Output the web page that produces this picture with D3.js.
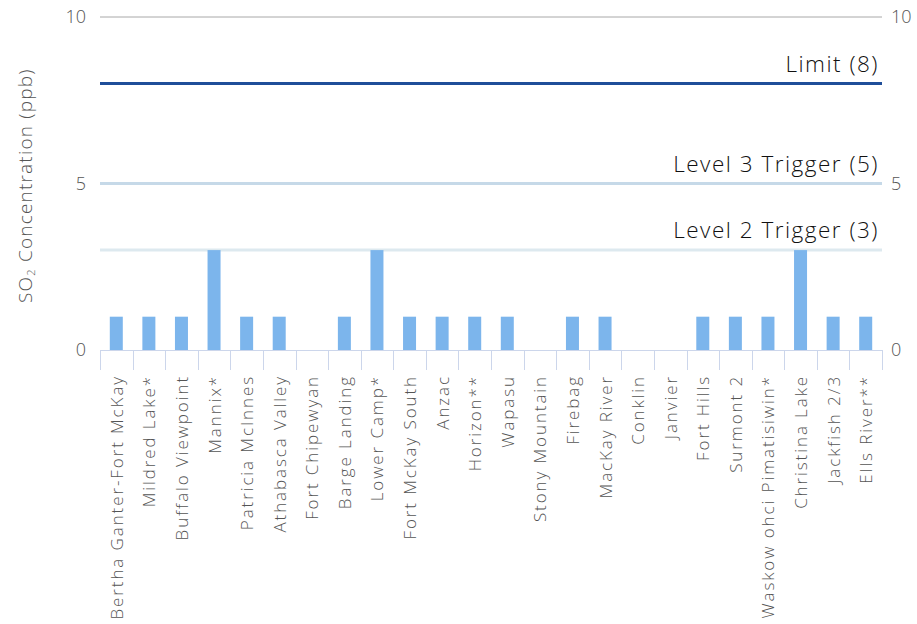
<!DOCTYPE html>
<html><head><meta charset="utf-8">
<script src="https://cdn.jsdelivr.net/npm/d3@7"></script>
<style>body{margin:0;background:#fff}svg{display:block}</style>
</head><body>
<svg id="c" width="917" height="624"></svg>
<script>
const categories = ["Bertha Ganter-Fort McKay","Mildred Lake*","Buffalo Viewpoint","Mannix*","Patricia McInnes","Athabasca Valley","Fort Chipewyan","Barge Landing","Lower Camp*","Fort McKay South","Anzac","Horizon**","Wapasu","Stony Mountain","Firebag","MacKay River","Conklin","Janvier","Fort Hills","Surmont 2","Waskow ohci Pimatisiwin*","Christina Lake","Jackfish 2/3","Ells River**"];
const values = [1,1,1,3,1,1,0,1,3,1,1,1,1,0,1,1,0,0,1,1,1,3,1,1];
const yTicks = [0,5,10];
const refLabels = ["Limit (8)","Level 3 Trigger (5)","Level 2 Trigger (3)"];
const refValues = [8,5,3];
const refColors = ["#1f4e99","#c6d9e8","#dde9ef"];

const font = "'Open Sans', sans-serif";
const svg = d3.select("#c");
const L = 100, R = 882, T = 17, B = 350;
const x = d3.scaleBand().domain(categories).range([L, R]);
const y = d3.scaleLinear().domain([0, 10]).range([B, T]);

// top gridline
svg.append("line").attr("x1", L).attr("x2", R).attr("y1", y(10)).attr("y2", y(10))
  .attr("stroke", "#a8a8a8").attr("stroke-width", 1);

// reference lines
refValues.forEach((v, i) => {
  svg.append("line").attr("x1", L).attr("x2", R).attr("y1", y(v)).attr("y2", y(v))
    .attr("stroke", refColors[i]).attr("stroke-width", 3);
  svg.append("text").attr("x", 879).attr("y", y(v) - 12).attr("text-anchor", "end")
    .attr("font-family", font).attr("font-size", 22.5).attr("font-weight", 350)
    .attr("letter-spacing", 1.5)
    .attr("fill", "#111").text(refLabels[i]);
});

// bars
const bw = 13;
svg.selectAll("rect.bar").data(values).enter().append("rect")
  .attr("x", (d, i) => x(categories[i]) + x.bandwidth() / 2 - bw / 2)
  .attr("y", d => y(d))
  .attr("width", bw)
  .attr("height", d => y(0) - y(d))
  .attr("fill", "#7cb5ec");

// x axis
const xAxis = svg.append("g").attr("transform", `translate(0,${B})`)
  .call(d3.axisBottom(x).tickSize(0).tickPadding(0).tickFormat(""));
xAxis.select(".domain").attr("stroke", "#ccd6eb").attr("stroke-width", 1);
const bounds = categories.map(c => x(c)).concat([R]);
svg.selectAll("line.tick").data(bounds).enter().append("line")
  .attr("x1", d => Math.round(d) + 0.5).attr("x2", d => Math.round(d) + 0.5)
  .attr("y1", B).attr("y2", B + 20).attr("stroke", "#ccd6eb").attr("stroke-width", 1);
categories.forEach((c, i) => {
  svg.append("text")
    .attr("transform", `translate(${x(c) + x.bandwidth() / 2 + 6.5},${375}) rotate(-90)`)
    .attr("text-anchor", "end").attr("font-family", font).attr("font-size", 17)
    .attr("font-weight", 300).attr("letter-spacing", 1.9)
    .attr("fill", "#555").text(c);
});

// y axis labels left and right
const yl = svg.append("g").attr("transform", `translate(${L},0)`)
  .call(d3.axisLeft(y).tickValues(yTicks).tickSize(0).tickPadding(14));
yl.select(".domain").remove();
yl.selectAll("text").attr("font-family", font).attr("font-size", 18).attr("font-weight", 300).attr("fill", "#555");
const yr = svg.append("g").attr("transform", `translate(${R},0)`)
  .call(d3.axisRight(y).tickValues(yTicks).tickSize(0).tickPadding(9));
yr.select(".domain").remove();
yr.selectAll("text").attr("font-family", font).attr("font-size", 18).attr("font-weight", 300).attr("fill", "#555");

// y title
const yt = svg.append("text").attr("transform", `translate(32,303) rotate(-90)`)
  .attr("text-anchor", "start").attr("font-family", font).attr("font-size", 19)
  .attr("font-weight", 300).attr("letter-spacing", 1.2).attr("fill", "#555");
yt.append("tspan").text("SO");
yt.append("tspan").attr("font-size", 11).attr("dy", 3).text("2");
yt.append("tspan").attr("dy", -3).text(" Concentration (ppb)");
</script>
</body></html>
